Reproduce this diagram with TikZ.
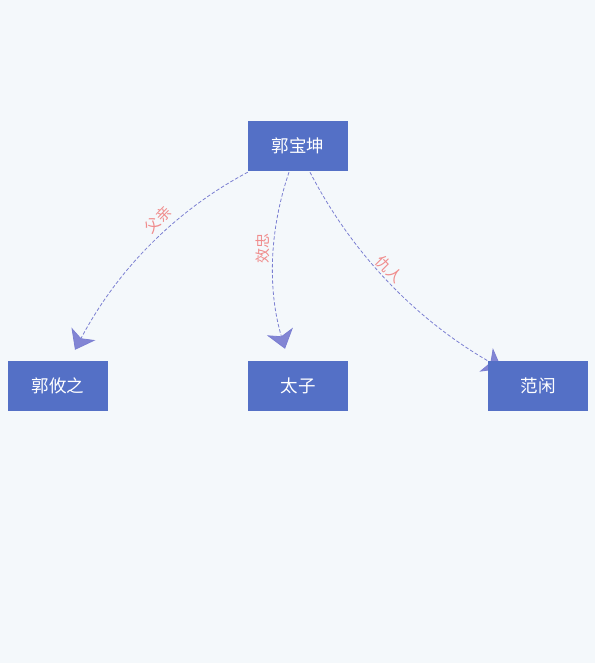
\documentclass[tikz,border=0pt]{standalone}
\usepackage{fontspec}
\setmainfont{Noto Sans CJK SC}
\usetikzlibrary{arrows.meta,calc}
\definecolor{bgc}{HTML}{F4F8FB}
\definecolor{boxc}{HTML}{5470C6}
\definecolor{edgec}{HTML}{7B7FD2}
\definecolor{labc}{HTML}{F08C8C}
\pgfdeclarelayer{bottom}
\pgfdeclarelayer{edges}
\pgfsetlayers{bottom,edges,main}
\begin{document}
\begin{tikzpicture}[x=1pt,y=-1pt,
  box/.style={rectangle,fill=boxc,text=white,minimum width=100pt,minimum height=50pt,inner sep=0pt,font=\fontsize{17.5}{20}\selectfont},
  rel/.style={edgec,dashed,dash pattern=on 3.5pt off 2pt,line width=0.8pt,-{Stealth[length=18pt,width=27pt,inset=5pt,fill=edgec!95]}},
  lab/.style={text=labc,font=\fontsize{15}{16}\selectfont,inner sep=0pt}]
\begin{pgfonlayer}{bottom}
\fill[bgc] (0,0) rectangle (595,663);
\end{pgfonlayer}
\useasboundingbox (0,0) rectangle (595,663);
\node[box] (a) at (298,146) {郭宝坤};
\node[box] (b) at (58,386) {郭攸之};
\node[box] (c) at (298,386) {太子};
\node[box] (d) at (538,386) {范闲};
\begin{pgfonlayer}{edges}
\draw[rel] ($(a.south west)+(0,1)$) .. controls (174.7,211) and (117,270.3) .. ($(b.north)+(17,-11)$);
\draw[rel] ($(a.south)+(-9,1)$) .. controls (269,231) and (267.7,290) .. ($(c.north)+(-13,-12)$);
\draw[rel] ($(a.south)+(12,1)$) .. controls (352.7,254.7) and (416.7,320.3) .. ($(d.north west)+(14,8)$);
\end{pgfonlayer}
\node[lab,rotate=46] (l1) at (158,220) {父亲};
\node[lab,rotate=90] (l2) at (263,248) {效忠};
\node[lab,rotate=-45] (l3) at (389,269) {仇人};
\end{tikzpicture}
\end{document}
